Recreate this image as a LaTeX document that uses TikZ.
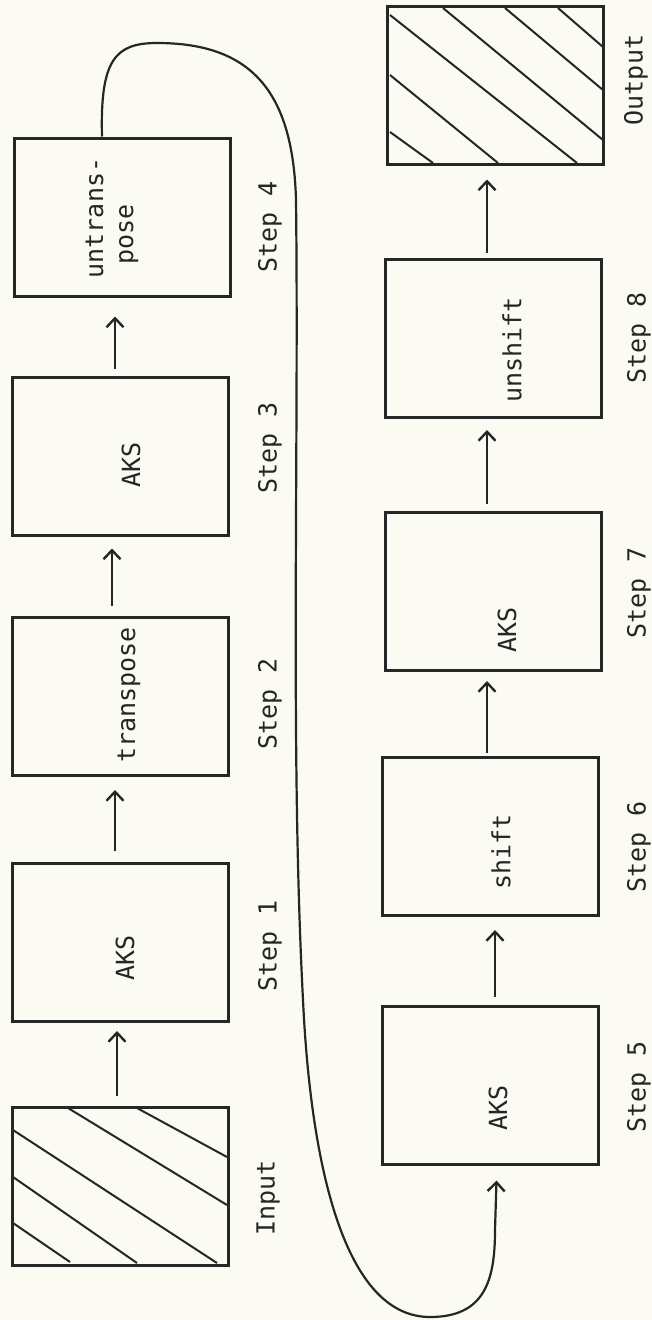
\documentclass[tikz,border=0pt]{standalone}
\usepackage{fontspec}
\setmonofont{DejaVu Sans Mono}
\usetikzlibrary{arrows.meta,calc}
\definecolor{paper}{RGB}{252,251,243}
\definecolor{ink}{RGB}{38,38,38}
\begin{document}
\begin{tikzpicture}[x=1pt,y=-1pt,
  box/.style={draw=ink,line width=3pt,minimum width=216pt,minimum height=158pt,inner sep=0pt},
  lbl/.style={font=\ttfamily\fontsize{25}{30}\selectfont,text=ink,rotate=90,inner sep=0pt},
  flow/.style={draw=ink,line width=2.2pt,-{Straight Barb[length=9pt,width=17pt,line width=2.4pt]}},
  hatch/.style={draw=ink,line width=2pt}]
\useasboundingbox (0,0) rectangle (652,1320);
\fill[paper] (0,0) rectangle (652,1320);
% hatching
\draw[hatch] (137,1108)--(227,1157) (68,1108)--(227,1205) (13,1130)--(217,1263)
  (13,1177)--(137,1263) (13,1223)--(70,1262);
\draw[hatch] (558,8)--(603,47) (505,8)--(603,90) (443,8)--(603,140)
  (390,15)--(577,163) (390,75)--(498,163) (390,132)--(433,163);
% boxes
\node[box] (in) at (120,1186) {};
\node[box] (s1) at (120,942.5) {};
\node[box] (s2) at (120,696.5) {};
\node[box] (s3) at (120.5,456) {};
\node[box] (s4) at (122,217) {};
\node[box] (s5) at (490.5,1085) {};
\node[box] (s6) at (490.5,836.5) {};
\node[box] (s7) at (493.5,591.5) {};
\node[box] (s8) at (493.5,338.5) {};
\node[box] (out) at (495,85) {};
% box texts
\node[lbl] (x1) at (125,958) {AKS};
\node[lbl] (x2) at (129,695) {transpose};
\node[lbl] (x3) at (131,465) {AKS};
\node[lbl,align=left] (x4) at (112,218) {untrans-\\\hspace*{14pt}pose};
\node[lbl] (x5) at (498,1108) {AKS};
\node[lbl] (x6) at (501,852) {shift};
\node[lbl] (x7) at (507,630) {AKS};
\node[lbl] (x8) at (512,350) {unshift};
% step labels
\node[lbl] (tin) at (268,1198) {Input};
\node[lbl] (t1) at (270,946) {Step 1};
\node[lbl] (t2) at (270,704) {Step 2};
\node[lbl] (t3) at (270,448) {Step 3};
\node[lbl] (t4) at (270,227) {Step 4};
\node[lbl] (t5) at (639,1087) {Step 5};
\node[lbl] (t6) at (639,847) {Step 6};
\node[lbl] (t7) at (639,593) {Step 7};
\node[lbl] (t8) at (639,338) {Step 8};
\node[lbl] (tout) at (636,80) {Output};
% connectors
\draw[flow] ($(in.north)+(-3,-10)$) -- ($(s1.south)+(-3,8)$);
\draw[flow] ($(s1.north)+(-5,-11)$) -- ($(s2.south)+(-5,13)$);
\draw[flow] ($(s2.north)+(-8,-10)$) -- ($(s3.south)+(-8.5,12)$);
\draw[flow] ($(s3.north)+(-5.5,-7)$) -- ($(s4.south)+(-7,19)$);
\draw[flow] ($(s5.north)+(4.5,-8)$) -- ($(s6.south)+(4.5,13)$);
\draw[flow] ($(s6.north)+(-3.5,-3)$) -- ($(s7.south)+(-6.5,9)$);
\draw[flow] ($(s7.north)+(-6.5,-7)$) -- ($(s8.south)+(-6.5,11)$);
\draw[flow] ($(s8.north)+(-6.5,-5)$) -- ($(out.south)+(-8,14)$);
\draw[flow] ($(s4.north)+(-20,0)$) .. controls (100,60) and (115,43) .. (157,43)
  .. controls (250,43) and (293,90) .. (296,200)
  .. controls (299,450) and (290,750) .. (303,1000)
  .. controls (310,1150) and (340,1317) .. (430,1317)
  .. controls (485,1317) and (495,1280) .. (495,1230)
  -- ($(s5.south)+(6,15)$);
\end{tikzpicture}
\end{document}
